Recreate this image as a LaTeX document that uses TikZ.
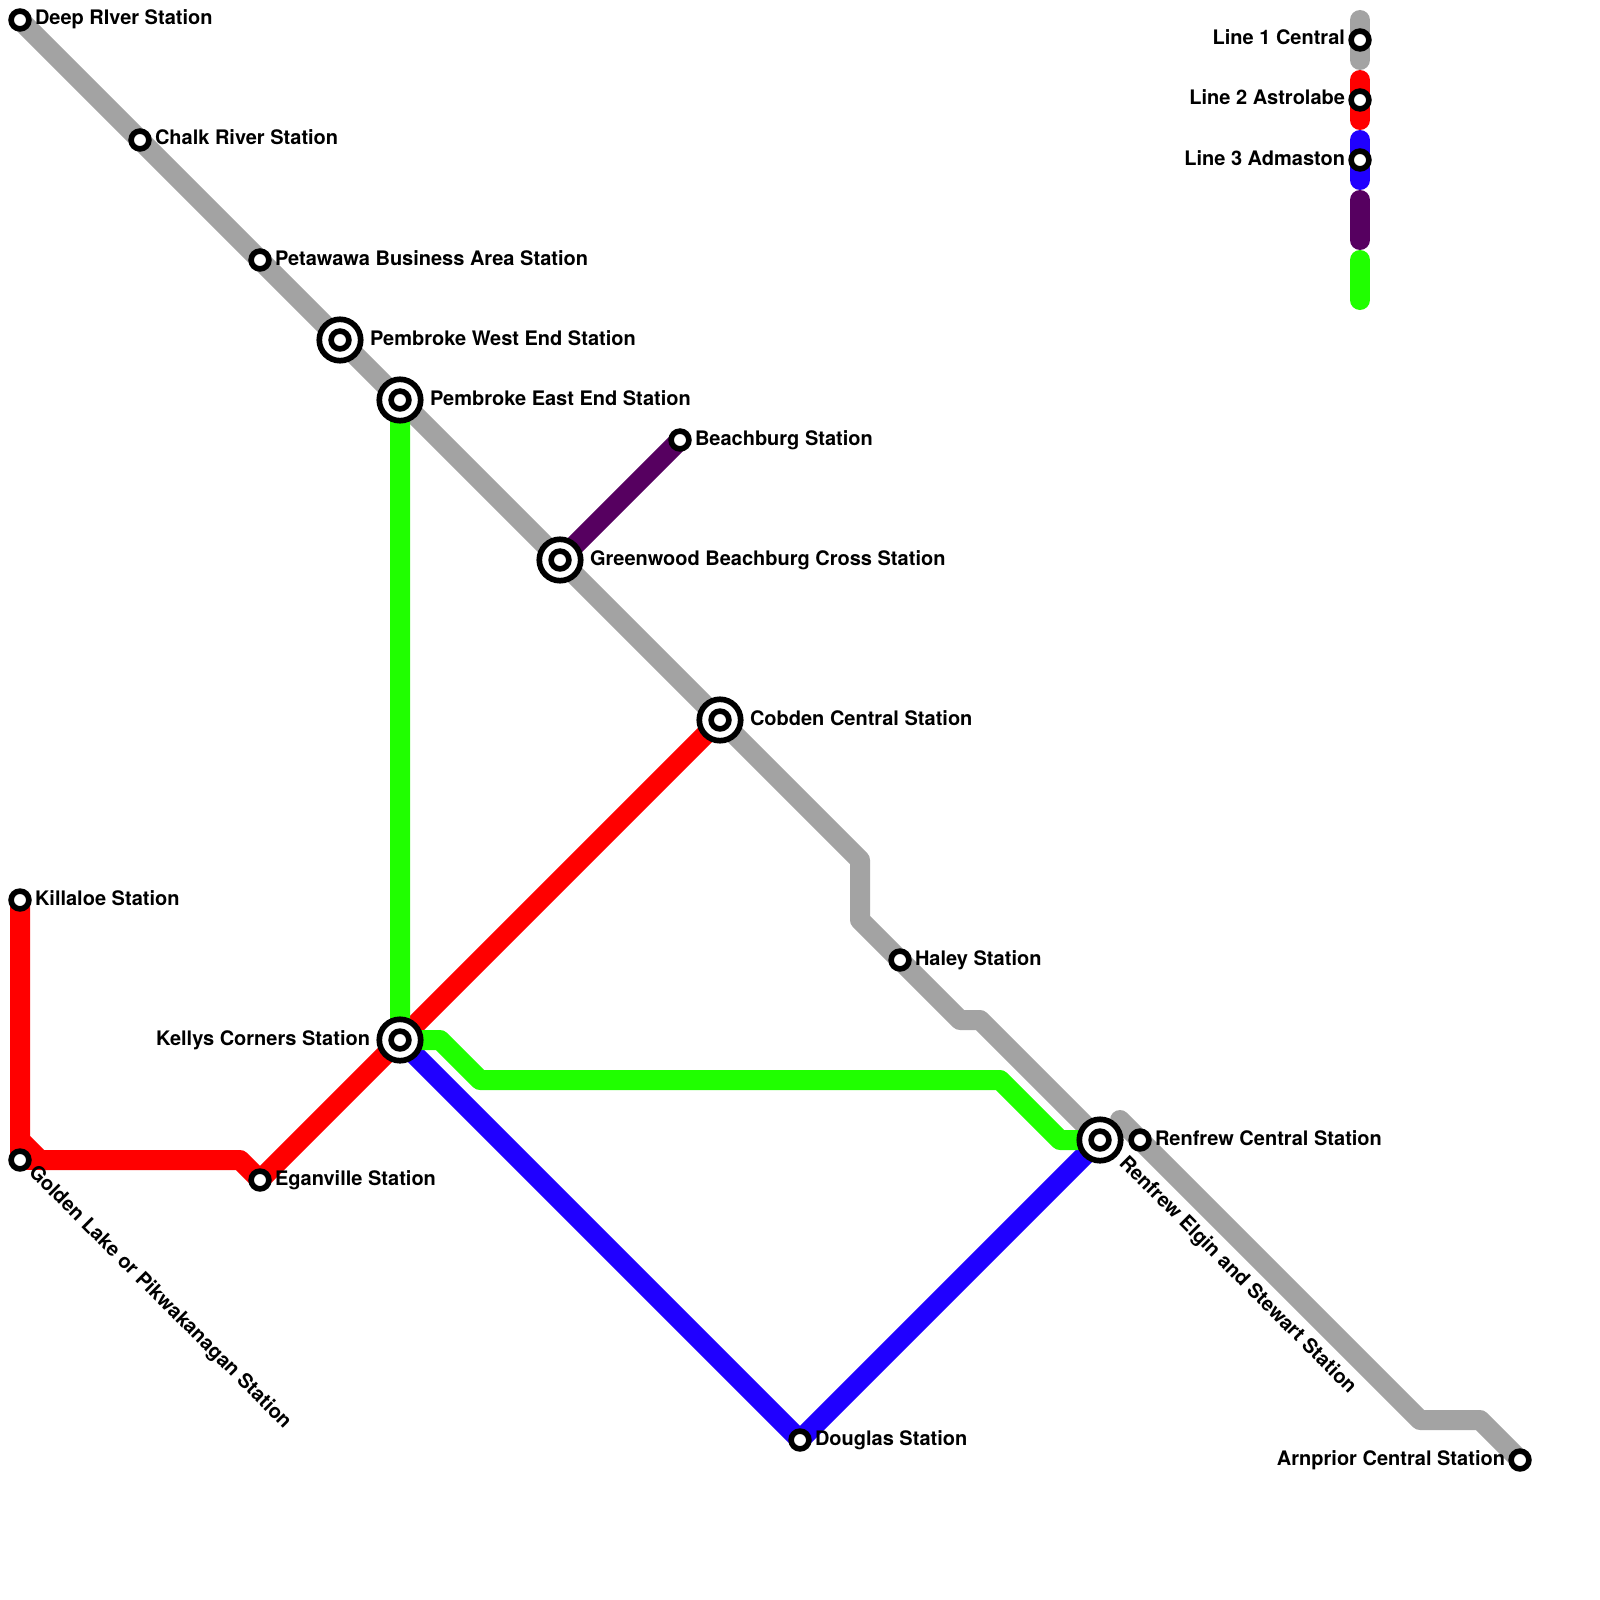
\documentclass[tikz,border=0pt]{standalone}
\usepackage{fontspec}
\setmainfont{TeX Gyre Heros}
\definecolor{lgray}{HTML}{A3A3A3}
\definecolor{lred}{HTML}{FF0000}
\definecolor{lblue}{HTML}{2000FF}
\definecolor{lpurple}{HTML}{560060}
\definecolor{lgreen}{HTML}{20FF00}
\pgfdeclarelayer{fg}
\pgfsetlayers{main,fg}
\tikzset{
  tline/.style={line width=20pt,line join=round,line cap=butt},
  legendline/.style={line width=20pt,line cap=round},
  stn/.style={circle,draw=black,fill=white,line width=5.6pt,minimum size=17.8pt,inner sep=0pt,outer sep=0pt},
  bigstn/.style={circle,draw=black,fill=white,line width=5.7pt,minimum size=41.4pt,inner sep=0pt,outer sep=0pt},
  lab/.style={font=\fontsize{20pt}{22pt}\selectfont\bfseries,text=black,inner sep=0pt,outer sep=0pt},
  labr/.style={lab,anchor=base west},
  labl/.style={lab,anchor=base east},
  labd/.style={lab,anchor=base west,rotate=-45},
}
\begin{document}
\begin{tikzpicture}[x=1pt,y=-1pt]
\useasboundingbox (0,0) rectangle (1600,1600);
\begin{pgfonlayer}{fg}
\node[stn] (deep) at (20,20) {};
\node[stn] (chalk) at (140,140) {};
\node[stn] (peta) at (260,260) {};
\node[bigstn] (pwest) at (340,340) {}; \node[stn] (pwestc) at (340,340) {};
\node[bigstn] (peast) at (400,400) {}; \node[stn] (peastc) at (400,400) {};
\node[stn] (beach) at (680,440) {};
\node[bigstn] (green) at (560,560) {}; \node[stn] (greenc) at (560,560) {};
\node[bigstn] (cobden) at (720,720) {}; \node[stn] (cobdenc) at (720,720) {};
\node[stn] (killaloe) at (20,900) {};
\node[stn] (haley) at (900,960) {};
\node[bigstn] (kelly) at (400,1040) {}; \node[stn] (kellyc) at (400,1040) {};
\node[bigstn] (elgin) at (1100,1140) {}; \node[stn] (elginc) at (1100,1140) {};
\node[stn] (renfrew) at (1140,1140) {};
\node[stn] (golden) at (20,1160) {};
\node[stn] (egan) at (260,1180) {};
\node[stn] (douglas) at (800,1440) {};
\node[stn] (arn) at (1520,1460) {};
\node[stn] (leg1) at (1360,40) {};
\node[stn] (leg2) at (1360,100) {};
\node[stn] (leg3) at (1360,160) {};
\end{pgfonlayer}
% bends
\coordinate (g1) at (860,860);
\coordinate (g2) at (860,920);
\coordinate (g3) at (960,1020);
\coordinate (g4) at (980,1020);
\coordinate (g5) at (1120,1120);
\coordinate (g6) at (1420,1420);
\coordinate (g7) at (1480,1420);
\coordinate (r1) at (20,1140);
\coordinate (r2) at (40,1160);
\coordinate (r3) at (240,1160);
\coordinate (v1) at (440,1040);
\coordinate (v2) at (480,1080);
\coordinate (v3) at (1000,1080);
\coordinate (v4) at (1060,1140);
\coordinate (a1) at (1360,20); \coordinate (a2) at (1360,60);
\coordinate (b1) at (1360,80); \coordinate (b2) at (1360,120);
\coordinate (c1) at (1360,140); \coordinate (c2) at (1360,180);
\coordinate (d1) at (1360,200); \coordinate (d2) at (1360,240);
\coordinate (e1) at (1360,260); \coordinate (e2) at (1360,300);
% lines
\draw[tline,lgray] (deep.center) -- (chalk.center) -- (peta.center) -- (pwest.center) -- (peast.center) -- (green.center) -- (cobden.center) -- (g1) -- (g2) -- (haley.center) -- (g3) -- (g4) -- (elgin.center);
\draw[tline,lgray,line cap=round] (g5) -- (renfrew.center) -- (g6) -- (g7) -- (arn.center);
\draw[tline,lred] (killaloe.center) -- (r1) -- (r2) -- (r3) -- (egan.center) -- (kelly.center) -- (cobden.center);
\draw[tline,lred] (r1) -- (golden.center) -- (r2);
\draw[tline,lblue] (kelly.center) -- (douglas.center) -- (elgin.center);
\draw[tline,lpurple] (green.center) -- (beach.center);
\draw[tline,lgreen] (peast.center) -- (kelly.center) -- (v1) -- (v2) -- (v3) -- (v4) -- (elgin.center);
% legend
\draw[legendline,lgray] (a1) -- (a2);
\draw[legendline,lred] (b1) -- (b2);
\draw[legendline,lblue] (c1) -- (c2);
\draw[legendline,lpurple] (d1) -- (d2);
\draw[legendline,lgreen] (e1) -- (e2);
% labels
\node[labr] (tdeep) at (35,25) {Deep RIver Station};
\node[labr] (tchalk) at (155,145) {Chalk River Station};
\node[labr] (tpeta) at (275,265) {Petawawa Business Area Station};
\node[labr] (tpwest) at (370,345) {Pembroke West End Station};
\node[labr] (tpeast) at (430,405) {Pembroke East End Station};
\node[labr] (tbeach) at (695,445) {Beachburg Station};
\node[labr] (tgreen) at (590,565) {Greenwood Beachburg Cross Station};
\node[labr] (tcobden) at (750,725) {Cobden Central Station};
\node[labr] (tkill) at (35,905) {Killaloe Station};
\node[labr] (thaley) at (915,965) {Haley Station};
\node[labl] (tkelly) at (370,1045) {Kellys Corners Station};
\node[labr] (trenf) at (1155,1145) {Renfrew Central Station};
\node[labr] (tegan) at (275,1185) {Eganville Station};
\node[labr] (tdoug) at (815,1445) {Douglas Station};
\node[labl] (tarn) at (1505,1465) {Arnprior Central Station};
\node[labl] (tl1) at (1345,45) {Line 1 Central};
\node[labl] (tl2) at (1345,105) {Line 2 Astrolabe};
\node[labl] (tl3) at (1345,165) {Line 3 Admaston};
\node[labd] (tgold) at (27.8,1173.4) {Golden Lake or Pikwakanagan Station};
\node[labd] (telg) at (1118.3,1164) {Renfrew Elgin and Stewart Station};
\end{tikzpicture}
\end{document}
